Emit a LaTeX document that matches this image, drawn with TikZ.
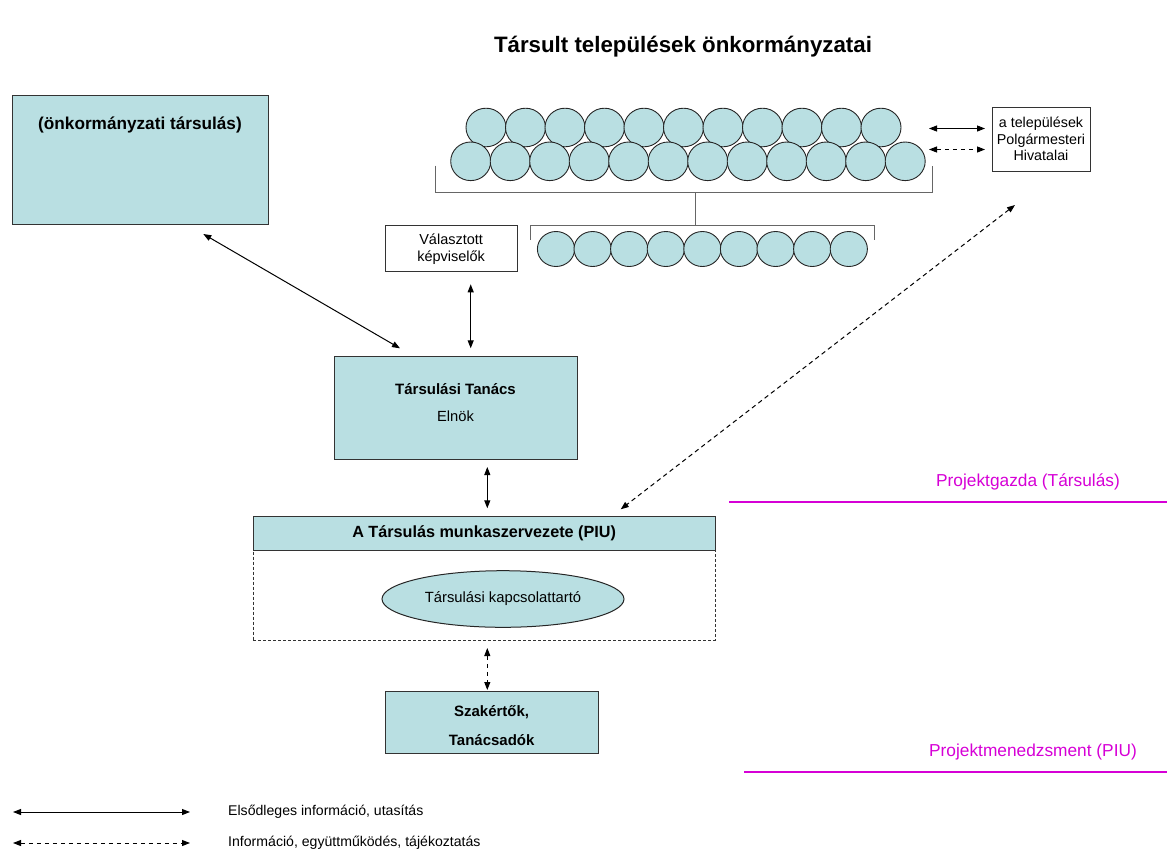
\documentclass[tikz,border=0pt]{standalone}
\usepackage{fontspec}
\setmainfont{Liberation Sans}
\usetikzlibrary{arrows.meta,shapes.geometric}
\definecolor{cyanfill}{RGB}{185,223,226}
\definecolor{mag}{RGB}{214,0,214}
\tikzset{
  fs/.style={font=\fontsize{14.5}{17}\selectfont},
  fsb/.style={font=\fontsize{15}{18}\selectfont\bfseries},
  box/.style={draw=black!80, line width=1pt, fill=cyanfill, inner sep=0pt, outer sep=0pt},
  wbox/.style={draw=black!80, line width=1pt, fill=white, inner sep=0pt, outer sep=0pt},
  circ/.style={draw=black!85, line width=0.9pt, fill=cyanfill},
  conn/.style={line width=1pt, {Triangle[length=8pt,width=6pt]}-{Triangle[length=8pt,width=6pt]}},
  dconn/.style={conn, dash pattern=on 4.5pt off 3.5pt},
  brk/.style={draw=black!60, line width=1pt},
  magline/.style={draw=mag, line width=1.2pt},
  magtext/.style={text=mag, font=\fontsize{17.3}{20}\selectfont, inner sep=0pt},
}
\begin{document}
\begin{tikzpicture}[x=1pt,y=-1pt]
\useasboundingbox (0,0) rectangle (1167,855);

% title
\node[font=\fontsize{22.3}{26}\selectfont\bfseries, inner sep=0pt] (title) at (683,47) {Társult települések önkormányzatai};

% left box
\node[box, minimum width=256pt, minimum height=128.5pt] (lbox) at (140,159.75) {};
\node[font=\fontsize{17.2}{20}\selectfont\bfseries, inner sep=0pt] (lboxt) at (140,125) {(önkormányzati társulás)};

% circles
\foreach \i in {0,...,10} \draw[circ] (486+39.5*\i,127.5) ellipse [x radius=20, y radius=19.3];
\foreach \i in {0,...,11} \draw[circ] (470.7+39.5*\i,161.3) ellipse [x radius=20, y radius=19.3];
\draw[brk] (435,165.7) -- (435,192.3) -- (932.7,192.3) -- (932.7,165.7);
\draw[brk] (695.7,192.3) -- (695.7,225);
\draw[brk] (530,240) -- (530,225) -- (874.3,225) -- (874.3,240);
\foreach \i in {0,...,8} \draw[circ] (556+36.6*\i,249) ellipse [x radius=18.6, y radius=17.5];

% Valasztott kepviselok
\node[wbox, fs, align=center, minimum width=132.3pt, minimum height=46pt] (valaszt) at (451.15,248.7) {Választott\\képviselők};

% Polgarmesteri hivatalai
\node[wbox, align=center, minimum width=98pt, minimum height=64pt, font=\fontsize{14.3}{16.7}\selectfont] (polg) at (1041,139) {a települések\\Polgármesteri\\Hivatalai};

% Tanacs
\node[box, minimum width=243pt, minimum height=102.3pt] (tanacs) at (455.5,407.85) {};
\node[fsb, inner sep=0pt] (tanacst) at (455.5,389) {Társulási Tanács};
\node[inner sep=0pt, font=\fontsize{14.7}{17}\selectfont] (elnok) at (455.5,416) {Elnök};

% PIU
\node[box, minimum width=461.7pt, minimum height=33.3pt, font=\fontsize{16.2}{19}\selectfont\bfseries] (piu) at (484.15,533.35) {A Társulás munkaszervezete (PIU)};
\node[draw=black!80, line width=1pt, dash pattern=on 3pt off 2pt, minimum width=461.7pt, minimum height=90pt, inner sep=0pt] (piubox) at (484.15,595) {};
\node[ellipse, draw=black!85, line width=1pt, fill=cyanfill, minimum width=242pt, minimum height=56.6pt, inner sep=0pt, font=\fontsize{14.8}{17}\selectfont] (kapcs) at (503,599) {Társulási kapcsolattartó};

% Szakertok
\node[box, minimum width=213.3pt, minimum height=62.3pt] (szak) at (491.65,722.15) {};
\node[fsb, inner sep=0pt] (szak1) at (491.65,712.3) {Szakértők,};
\node[fsb, inner sep=0pt] (szak2) at (491.65,740) {Tanácsadók};

% connector end points
\coordinate (a1s) at (203.3,234);
\coordinate (a1e) at (400,348.3);
\coordinate (a2s) at (470.7,284.3);
\coordinate (a2e) at (470.7,348.3);
\coordinate (a3s) at (487.3,467);
\coordinate (a3e) at (487.3,508.3);
\coordinate (a4s) at (1015,205);
\coordinate (a4e) at (620.7,509.3);
\coordinate (a5s) at (487.3,648);
\coordinate (a5e) at (487.3,690);
\coordinate (a6s) at (929,128.5);
\coordinate (a6e) at (985,128.5);
\coordinate (a7s) at (929,149.5);
\coordinate (a7e) at (985,149.5);

\draw[conn] (a1s) -- (a1e);
\draw[conn] (a2s) -- (a2e);
\draw[conn] (a3s) -- (a3e);
\draw[dconn] (a4s) -- (a4e);
\draw[dconn] (a5s) -- (a5e);
\draw[conn] (a6s) -- (a6e);
\draw[dconn] (a7s) -- (a7e);

% magenta labels
\node[magtext] (pg) at (1028,482) {Projektgazda (Társulás)};
\coordinate (pgl1) at (729,502);
\coordinate (pgl2) at (1167,502);
\draw[magline] (pgl1) -- (pgl2);
\node[magtext] (pm) at (1033,752) {Projektmenedzsment (PIU)};
\coordinate (pml1) at (744,772);
\coordinate (pml2) at (1167,772);
\draw[magline] (pml1) -- (pml2);

% legend
\coordinate (l1s) at (13,812);
\coordinate (l1e) at (190,812);
\coordinate (l2s) at (13,843);
\coordinate (l2e) at (190,843);
\draw[conn] (l1s) -- (l1e);
\draw[dconn] (l2s) -- (l2e);
\node[font=\fontsize{14.1}{17}\selectfont, anchor=west, inner sep=0pt] (leg1) at (228,812) {Elsődleges információ, utasítás};
\node[font=\fontsize{14.1}{17}\selectfont, anchor=west, inner sep=0pt] (leg2) at (228,843) {Információ, együttműködés, tájékoztatás};
\end{tikzpicture}
\end{document}
